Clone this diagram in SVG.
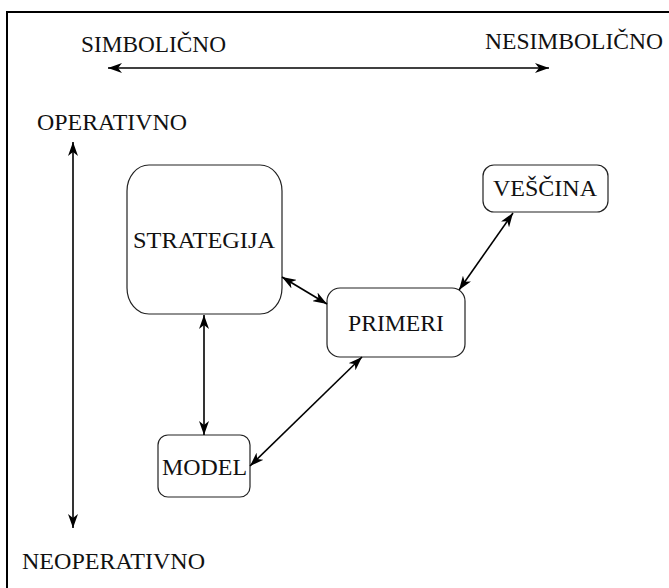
<svg xmlns="http://www.w3.org/2000/svg" width="669" height="588" viewBox="0 0 669 588">
  <style>
    .lbl { font-family: "Liberation Serif", "Times New Roman", serif; font-size: 24px; fill: #111; }
    .node { fill: #fff; stroke: #222; stroke-width: 1.2; }
    .link { stroke: #000; stroke-width: 1.6; fill: none; marker-start: url(#head); marker-end: url(#head); }
  </style>
  <defs>
    <marker id="head" viewBox="0 0 14 10" refX="14" refY="5" markerWidth="14" markerHeight="10" markerUnits="userSpaceOnUse" orient="auto-start-reverse">
      <path d="M0,0 L14,5 L0,10 L4,5 Z" fill="#000"/>
    </marker>
  </defs>

  <rect width="669" height="588" fill="#fff"/>
  <!-- frame -->
  <rect x="7" y="12" width="700" height="620" fill="none" stroke="#000" stroke-width="2"/>

  <!-- axis labels -->
  <g id="axes-labels">
    <text class="lbl" x="81" y="52" textLength="145" lengthAdjust="spacingAndGlyphs">SIMBOLIČNO</text>
    <text class="lbl" x="485" y="49" textLength="178" lengthAdjust="spacingAndGlyphs">NESIMBOLIČNO</text>
    <text class="lbl" x="37" y="130" textLength="150" lengthAdjust="spacingAndGlyphs">OPERATIVNO</text>
    <text class="lbl" x="22" y="569" textLength="183" lengthAdjust="spacingAndGlyphs">NEOPERATIVNO</text>
  </g>

  <g id="strategija">
    <rect class="node" x="127" y="165" width="155" height="149" rx="22" ry="26"/>
    <text class="lbl" x="133" y="248" textLength="142" lengthAdjust="spacingAndGlyphs">STRATEGIJA</text>
  </g>
  <g id="vescina">
    <rect class="node" x="483" y="165" width="125" height="47" rx="11"/>
    <text class="lbl" x="493" y="196" textLength="104" lengthAdjust="spacingAndGlyphs">VEŠČINA</text>
  </g>
  <g id="primeri">
    <rect class="node" x="327" y="288" width="138" height="69" rx="13"/>
    <text class="lbl" x="348" y="331" textLength="96" lengthAdjust="spacingAndGlyphs">PRIMERI</text>
  </g>
  <g id="model">
    <rect class="node" x="158" y="435" width="92" height="62" rx="10"/>
    <text class="lbl" x="162" y="475" textLength="85" lengthAdjust="spacingAndGlyphs">MODEL</text>
  </g>

  <g id="connectors">
    <line class="link" x1="108" y1="68" x2="549" y2="68"/>
    <line class="link" x1="73" y1="142" x2="73" y2="528"/>
    <line class="link" x1="282" y1="277" x2="327" y2="304"/>
    <line class="link" x1="513" y1="213" x2="459" y2="290"/>
    <line class="link" x1="204" y1="315" x2="204" y2="435"/>
    <line class="link" x1="250" y1="466" x2="362" y2="357"/>
  </g>
</svg>
